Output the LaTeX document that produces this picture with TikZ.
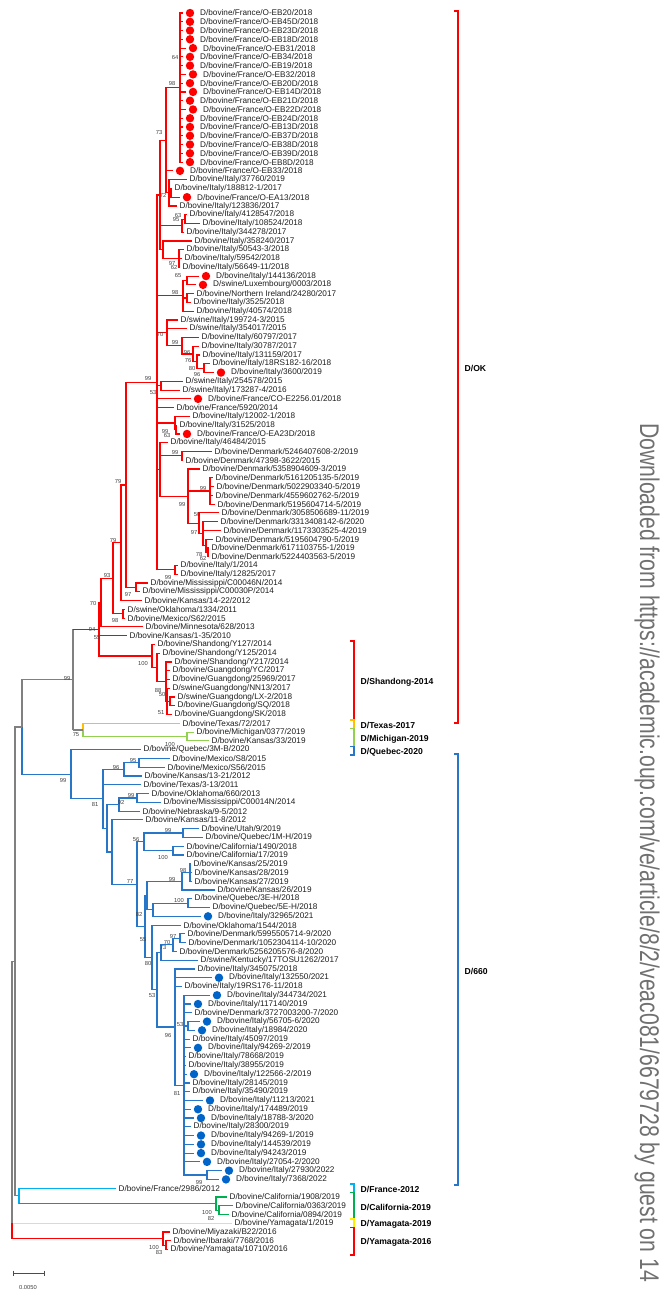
\documentclass[tikz,border=0pt]{standalone}
\usepackage{fontspec}
\setmainfont{Liberation Sans}
\usetikzlibrary{calc}
\definecolor{cR}{RGB}{255,0,0}
\definecolor{cB}{RGB}{40,118,200}
\definecolor{cBd}{RGB}{0,100,200}
\definecolor{cG}{RGB}{128,128,128}
\definecolor{cO}{RGB}{255,192,0}
\definecolor{cLG}{RGB}{146,208,80}
\definecolor{cC}{RGB}{0,176,240}
\definecolor{cGr}{RGB}{0,176,80}
\definecolor{cY}{RGB}{255,240,0}
\definecolor{dlgray}{RGB}{112,112,112}
\newcommand\lf[3]{\coordinate (L#1) at ({#2},{13+(#1-1)*8.77});
  \node[lab] (T#1) at ([xshift=2.5pt]L#1) {#3};}
\newcommand\lfd[4]{\coordinate (L#1) at ({#2},{13+(#1-1)*8.77});
  \node[dotm,fill=#4] (M#1) at ([xshift=7pt]L#1) {};
  \node[lab] (T#1) at ([xshift=17pt]L#1) {#3};}
\newcommand\nd[4]{\path let \p1=($(#3)!.5!(#4)$) in ({#2},\y1) coordinate (#1);}
\newcommand\br[3]{\foreach \chd in {#3}{\draw[edge,#1] (#2) |- (\chd);}}
\newcommand\brr[4]{\foreach \chd in {#3,...,#4}{\draw[edge,#1] (#2) |- (L\chd);}}
\newcounter{bsc}
\newcommand\bs[3]{\stepcounter{bsc}\node[bsl] (bs\arabic{bsc}) at ({#1},{#2}) {#3};}
\newcommand\clade[6]{\draw[brk,#1] ({#2-4},{#3}) -- ({#2},{#3}) -- ({#2},{#4}) -- ({#2-4},{#4});
  \node[clab] (#5) at ({#2+6.5},{(#3+#4)/2+1.5}) {#6};}
\begin{document}
\begin{tikzpicture}[x=1pt,y=-1pt,
  lab/.style={anchor=west,inner sep=0pt,font=\fontsize{8.2}{9}\selectfont,text=black!88},
  dotm/.style={circle,inner sep=0pt,minimum size=8.4pt,draw=none},
  edge/.style={line width=1.15pt},
  bsl/.style={inner sep=0pt,font=\fontsize{5.8}{6}\selectfont,text=black!75},
  brk/.style={line width=1.2pt},
  clab/.style={anchor=west,inner sep=0pt,font=\bfseries\fontsize{8.6}{9}\selectfont,text=black}]
\useasboundingbox (0,0) rectangle (670,1293);
% ---------- leaves
\lfd{1}{183}{D/bovine/France/O-EB20/2018}{cR}
\lfd{2}{183}{D/bovine/France/O-EB45D/2018}{cR}
\lfd{3}{183}{D/bovine/France/O-EB23D/2018}{cR}
\lfd{4}{183}{D/bovine/France/O-EB18D/2018}{cR}
\lfd{5}{186}{D/bovine/France/O-EB31/2018}{cR}
\lfd{6}{183}{D/bovine/France/O-EB34/2018}{cR}
\lfd{7}{183}{D/bovine/France/O-EB19/2018}{cR}
\lfd{8}{186}{D/bovine/France/O-EB32/2018}{cR}
\lfd{9}{183}{D/bovine/France/O-EB20D/2018}{cR}
\lfd{10}{186}{D/bovine/France/O-EB14D/2018}{cR}
\lfd{11}{183}{D/bovine/France/O-EB21D/2018}{cR}
\lfd{12}{186}{D/bovine/France/O-EB22D/2018}{cR}
\lfd{13}{183}{D/bovine/France/O-EB24D/2018}{cR}
\lfd{14}{183}{D/bovine/France/O-EB13D/2018}{cR}
\lfd{15}{183}{D/bovine/France/O-EB37D/2018}{cR}
\lfd{16}{183}{D/bovine/France/O-EB38D/2018}{cR}
\lfd{17}{183}{D/bovine/France/O-EB39D/2018}{cR}
\lfd{18}{183}{D/bovine/France/O-EB8D/2018}{cR}
\lfd{19}{173}{D/bovine/France/O-EB33/2018}{cR}
\lf{20}{187}{D/bovine/Italy/37760/2019}
\lf{21}{172}{D/bovine/Italy/188812-1/2017}
\lfd{22}{180}{D/bovine/France/O-EA13/2018}{cR}
\lf{23}{177}{D/bovine/Italy/123836/2017}
\lf{24}{187}{D/bovine/Italy/4128547/2018}
\lf{25}{200}{D/bovine/Italy/108524/2018}
\lf{26}{184}{D/bovine/Italy/344278/2017}
\lf{27}{192}{D/bovine/Italy/358240/2017}
\lf{28}{184}{D/bovine/Italy/50543-3/2018}
\lf{29}{182}{D/bovine/Italy/59542/2018}
\lf{30}{180}{D/bovine/Italy/56649-11/2018}
\lfd{31}{199}{D/bovine/Italy/144136/2018}{cR}
\lfd{32}{196}{D/swine/Luxembourg/0003/2018}{cR}
\lf{33}{194}{D/bovine/Northern Ireland/24280/2017}
\lf{34}{191}{D/bovine/Italy/3525/2018}
\lf{35}{194}{D/bovine/Italy/40574/2018}
\lf{36}{178}{D/swine/Italy/199724-3/2015}
\lf{37}{187}{D/swine/Italy/354017/2015}
\lf{38}{199}{D/bovine/Italy/60797/2017}
\lf{39}{199}{D/bovine/Italy/30787/2017}
\lf{40}{200}{D/bovine/Italy/131159/2017}
\lf{41}{210}{D/bovine/Italy/18RS182-16/2018}
\lfd{42}{214}{D/bovine/Italy/3600/2019}{cR}
\lf{43}{183}{D/swine/Italy/254578/2015}
\lf{44}{180}{D/swine/Italy/173287-4/2016}
\lfd{45}{191}{D/bovine/France/CO-E2256.01/2018}{cR}
\lf{46}{174}{D/bovine/France/5920/2014}
\lf{47}{190}{D/bovine/Italy/12002-1/2018}
\lf{48}{177}{D/bovine/Italy/31525/2018}
\lfd{49}{180}{D/bovine/France/O-EA23D/2018}{cR}
\lf{50}{168}{D/bovine/Italy/46484/2015}
\lf{51}{212}{D/bovine/Denmark/5246407608-2/2019}
\lf{52}{183}{D/bovine/Denmark/47398-3622/2015}
\lf{53}{200}{D/bovine/Denmark/5358904609-3/2019}
\lf{54}{213}{D/bovine/Denmark/5161205135-5/2019}
\lf{55}{214}{D/bovine/Denmark/5022903340-5/2019}
\lf{56}{213}{D/bovine/Denmark/4559602762-5/2019}
\lf{57}{215}{D/bovine/Denmark/5195604714-5/2019}
\lf{58}{219}{D/bovine/Denmark/3058506689-11/2019}
\lf{59}{218}{D/bovine/Denmark/3313408142-6/2020}
\lf{60}{221}{D/bovine/Denmark/1173303525-4/2019}
\lf{61}{213}{D/bovine/Denmark/5195604790-5/2019}
\lf{62}{209}{D/bovine/Denmark/6171103755-1/2019}
\lf{63}{209}{D/bovine/Denmark/5224403563-5/2019}
\lf{64}{178}{D/bovine/Italy/1/2014}
\lf{65}{178}{D/bovine/Italy/12825/2017}
\lf{66}{148}{D/bovine/Mississippi/C00046N/2014}
\lf{67}{140}{D/bovine/Mississippi/C00030P/2014}
\lf{68}{142}{D/bovine/Kansas/14-22/2012}
\lf{69}{125}{D/swine/Oklahoma/1334/2011}
\lf{70}{125}{D/bovine/Mexico/S62/2015}
\lf{71}{143}{D/bovine/Minnesota/628/2013}
\lf{72}{127}{D/bovine/Kansas/1-35/2010}
\lf{73}{155}{D/bovine/Shandong/Y127/2014}
\lf{74}{160}{D/bovine/Shandong/Y125/2014}
\lf{75}{172}{D/bovine/Shandong/Y217/2014}
\lf{76}{170}{D/bovine/Guangdong/YC/2017}
\lf{77}{170}{D/bovine/Guangdong/25969/2017}
\lf{78}{170}{D/swine/Guangdong/NN13/2017}
\lf{79}{175}{D/swine/Guangdong/LX-2/2018}
\lf{80}{175}{D/bovine/Guangdong/SQ/2018}
\lf{81}{172}{D/bovine/Guangdong/SK/2018}
\lf{82}{180}{D/bovine/Texas/72/2017}
\lf{83}{194}{D/bovine/Michigan/0377/2019}
\lf{84}{209}{D/bovine/Kansas/33/2019}
\lf{85}{141}{D/bovine/Quebec/3M-B/2020}
\lf{86}{170}{D/bovine/Mexico/S8/2015}
\lf{87}{165}{D/bovine/Mexico/S56/2015}
\lf{88}{142}{D/bovine/Kansas/13-21/2012}
\lf{89}{141}{D/bovine/Texas/3-13/2011}
\lf{90}{149}{D/bovine/Oklahoma/660/2013}
\lf{91}{161}{D/bovine/Mississippi/C00014N/2014}
\lf{92}{140}{D/bovine/Nebraska/9-5/2012}
\lf{93}{143}{D/bovine/Kansas/11-8/2012}
\lf{94}{199}{D/bovine/Utah/9/2019}
\lf{95}{203}{D/bovine/Quebec/1M-H/2019}
\lf{96}{184}{D/bovine/California/1490/2018}
\lf{97}{184}{D/bovine/California/17/2019}
\lf{98}{191}{D/bovine/Kansas/25/2019}
\lf{99}{192}{D/bovine/Kansas/28/2019}
\lf{100}{192}{D/bovine/Kansas/27/2019}
\lf{101}{215}{D/bovine/Kansas/26/2019}
\lf{102}{192}{D/bovine/Quebec/3E-H/2018}
\lf{103}{210}{D/bovine/Quebec/5E-H/2018}
\lfd{104}{201}{D/bovine/Italy/32965/2021}{cBd}
\lf{105}{181}{D/bovine/Oklahoma/1544/2018}
\lf{106}{185}{D/bovine/Denmark/5995505714-9/2020}
\lf{107}{186}{D/bovine/Denmark/1052304114-10/2020}
\lf{108}{177}{D/bovine/Denmark/5256205576-8/2020}
\lf{109}{198}{D/swine/Kentucky/17TOSU1262/2017}
\lf{110}{195}{D/bovine/Italy/345075/2018}
\lfd{111}{212}{D/bovine/Italy/132550/2021}{cBd}
\lf{112}{182}{D/bovine/Italy/19RS176-11/2018}
\lfd{113}{210}{D/bovine/Italy/344734/2021}{cBd}
\lfd{114}{191}{D/bovine/Italy/117140/2019}{cBd}
\lf{115}{192}{D/bovine/Denmark/3727003200-7/2020}
\lfd{116}{200}{D/bovine/Italy/56705-6/2020}{cBd}
\lfd{117}{195}{D/bovine/Italy/18984/2020}{cBd}
\lf{118}{190}{D/bovine/Italy/45097/2019}
\lfd{119}{191}{D/bovine/Italy/94269-2/2019}{cBd}
\lf{120}{186}{D/bovine/Italy/78668/2019}
\lf{121}{186}{D/bovine/Italy/38955/2019}
\lfd{122}{187}{D/bovine/Italy/122566-2/2019}{cBd}
\lf{123}{190}{D/bovine/Italy/28145/2019}
\lf{124}{190}{D/bovine/Italy/35490/2019}
\lfd{125}{203}{D/bovine/Italy/11213/2021}{cBd}
\lfd{126}{191}{D/bovine/Italy/174489/2019}{cBd}
\lfd{127}{194}{D/bovine/Italy/18788-3/2020}{cBd}
\lf{128}{191}{D/bovine/Italy/28300/2019}
\lfd{129}{194}{D/bovine/Italy/94269-1/2019}{cBd}
\lfd{130}{194}{D/bovine/Italy/144539/2019}{cBd}
\lfd{131}{194}{D/bovine/Italy/94243/2019}{cBd}
\lfd{132}{200}{D/bovine/Italy/27054-2/2020}{cBd}
\lfd{133}{222}{D/bovine/Italy/27930/2022}{cBd}
\lfd{134}{219}{D/bovine/Italy/7368/2022}{cBd}
\lf{135}{116}{D/bovine/France/2986/2012}
\lf{136}{227}{D/bovine/California/1908/2019}
\lf{137}{233}{D/bovine/California/0363/2019}
\lf{138}{229}{D/bovine/California/0894/2019}
\lf{139}{232}{D/bovine/Yamagata/1/2019}
\lf{140}{170}{D/bovine/Miyazaki/B22/2016}
\lf{141}{171}{D/bovine/Ibaraki/7768/2016}
\lf{142}{168}{D/bovine/Yamagata/10710/2016}
% ---------- internal nodes (D/OK)
\nd{A}{180}{L1}{L18}
\nd{D}{171}{L21}{L22}
\nd{C}{169}{L20}{L23}
\nd{B}{166}{A}{C}
\nd{H1}{185}{L24}{L25}
\nd{H}{182}{H1}{L26}
\nd{I2}{179}{L28}{L30}
\nd{I}{163}{L27}{I2}
\nd{M}{160}{B}{I}
\nd{J1}{187}{L31}{L32}
\nd{J2}{187}{L33}{L34}
\nd{J}{183}{J1}{L35}
\nd{K4}{204}{L41}{L42}
\nd{K3}{197}{L40}{K4}
\nd{K2}{193}{L39}{K3}
\nd{K1}{182}{L38}{K2}
\nd{Ln}{167}{L36}{K1}
\nd{N1}{161}{L43}{L44}
\nd{O2}{176}{L48}{L49}
\nd{O}{175}{L47}{O2}
\nd{P1}{182}{L51}{L52}
\nd{Q1}{210}{L54}{L57}
\nd{R4}{208}{L62}{L63}
\nd{R3}{206}{L61}{R4}
\nd{R2}{203}{L59}{R3}
\nd{R1}{199}{L58}{R2}
\nd{Q}{188}{L53}{R1}
\nd{F}{160}{L50}{Q}
\nd{S}{175}{L64}{L65}
\nd{E}{157}{M}{S}
\nd{U}{136}{L66}{L67}
\nd{T}{126}{E}{U}
\nd{V}{121}{T}{L68}
\nd{W}{123}{L69}{L70}
\nd{X}{113}{V}{W}
\nd{Y2}{101}{X}{L71}
\nd{Z4}{170}{L79}{L80}
\nd{Z3}{167}{L78}{L81}
\nd{Z2}{166}{L75}{Z3}
\nd{Z1}{157}{L74}{Z2}
\nd{Z}{152}{L73}{Z1}
\nd{Y1}{99}{Y2}{Z}
\nd{MI}{187}{L83}{L84}
\nd{TX}{83}{L82}{MI}
\nd{DOK}{73}{Y1}{TX}
% ---------- internal nodes (D/660)
\nd{MX1}{139}{L86}{L87}
\nd{MX}{124}{MX1}{L88}
\nd{OK1}{137}{L90}{L91}
\nd{OKn}{119}{OK1}{L92}
\nd{UT}{183}{L94}{L95}
\nd{CA}{173}{L96}{L97}
\nd{UC}{144}{UT}{CA}
\nd{KS1}{190}{L98}{L100}
\nd{KS}{182}{KS1}{L101}
\nd{QC1}{188}{L102}{L103}
\nd{QC}{153}{QC1}{L104}
\nd{N82}{147}{KS}{QC}
\nd{DK1}{180}{L106}{L107}
\nd{DK2}{173}{DK1}{L108}
\nd{DK3}{161}{DK2}{L109}
\nd{IT53}{188}{L116}{L117}
\nd{IT99}{207}{L133}{L134}
\nd{IT81}{184}{L113}{IT99}
\nd{IT96}{175}{L110}{IT81}
\nd{N53}{157}{DK3}{IT96}
\nd{N80}{152}{L105}{N53}
\nd{N55}{145}{N82}{N80}
\nd{N77}{137}{UC}{N55}
\nd{K11}{112}{L93}{N77}
\nd{N107}{107}{OKn}{K11}
\nd{CC}{103}{MX}{N107}
\nd{BB}{71}{L85}{CC}
\nd{AA}{22}{DOK}{BB}
% ---------- basal
\nd{CA2}{219}{L137}{L138}
\nd{CA1}{216}{L136}{CA2}
\nd{FR}{19}{L135}{CA1}
\nd{RA}{15}{AA}{FR}
\nd{YM2}{166}{L141}{L142}
\nd{YM1}{163}{L140}{YM2}
\nd{RT}{12}{RA}{YM1}
% ---------- edges
\brr{cR}{A}{1}{18}
\br{cR}{D}{L21,L22}
\br{cR}{C}{L20,D,L23}
\br{cR}{B}{A,L19,C}
\br{cR}{H1}{L24,L25}
\br{cR}{H}{H1,L26}
\br{cR}{I2}{L28,L29,L30}
\br{cR}{I}{L27,I2}
\br{cR}{M}{B,H,I}
\br{cR}{J1}{L31,L32}
\br{cR}{J2}{L33,L34}
\br{cR}{J}{J1,J2,L35}
\br{cR}{K4}{L41,L42}
\br{cR}{K3}{L40,K4}
\br{cR}{K2}{L39,K3}
\br{cR}{K1}{L38,K2}
\br{cR}{Ln}{L36,L37,K1}
\br{cR}{N1}{L43,L44}
\br{cR}{O2}{L48,L49}
\br{cR}{O}{L47,O2}
\br{cR}{P1}{L51,L52}
\brr{cR}{Q1}{54}{57}
\br{cR}{R4}{L62,L63}
\br{cR}{R3}{L61,R4}
\br{cR}{R2}{L59,L60,R3}
\br{cR}{R1}{L58,R2}
\br{cR}{Q}{L53,Q1,R1}
\br{cR}{F}{L50,P1,Q}
\br{cR}{S}{L64,L65}
\br{cR}{E}{M,J,Ln,N1,L45,L46,O,F,S}
\br{cR}{U}{L66,L67}
\br{cR}{T}{E,U}
\br{cR}{V}{T,L68}
\br{cR}{W}{L69,L70}
\br{cR}{X}{V,W}
\br{cR}{Y2}{X,L71}
\br{cR}{Z4}{L79,L80}
\br{cR}{Z3}{L78,Z4,L81}
\br{cR}{Z2}{L75,L76,L77,Z3}
\br{cR}{Z1}{L74,Z2}
\br{cR}{Z}{L73,Z1}
\br{cR}{Y1}{Y2,L72,Z}
\br{cLG}{MI}{L83,L84}
\br{cO}{TX}{L82}
\br{cLG}{TX}{MI}
\draw[edge,cG] (DOK |- Y1) -- (DOK |- TX);
\draw[edge,cR] (DOK |- Y1) -- (Y1);
\draw[edge,cG] (DOK |- TX) -- (TX);
\br{cB}{MX1}{L86,L87}
\br{cB}{MX}{MX1,L88}
\br{cB}{OK1}{L90,L91}
\br{cB}{OKn}{OK1,L92}
\br{cB}{UT}{L94,L95}
\br{cB}{CA}{L96,L97}
\br{cB}{UC}{UT,CA}
\br{cB}{KS1}{L98,L99,L100}
\br{cB}{KS}{KS1,L101}
\br{cB}{QC1}{L102,L103}
\br{cB}{QC}{QC1,L104}
\br{cB}{N82}{KS,QC}
\br{cB}{DK1}{L106,L107}
\br{cB}{DK2}{DK1,L108}
\br{cB}{DK3}{DK2,L109}
\br{cB}{IT53}{L116,L117}
\br{cB}{IT99}{L133,L134}
\br{cB}{IT81}{L113,L114,L115,IT53,L118,L119,L120,L121,L122,L123,L124,L125,L126,L127,L128,L129,L130,L131,L132,IT99}
\br{cB}{IT96}{L110,L111,L112,IT81}
\br{cB}{N53}{DK3,IT96}
\br{cB}{N80}{L105,N53}
\br{cB}{N55}{N82,N80}
\br{cB}{N77}{UC,N55}
\br{cB}{K11}{L93,N77}
\br{cB}{N107}{OKn,K11}
\br{cB}{CC}{MX,L89,N107}
\br{cB}{BB}{L85,CC}
\br{cG}{AA}{DOK}
\br{cB}{AA}{BB}
\br{cGr}{CA2}{L137,L138}
\br{cGr}{CA1}{L136,CA2}
\draw[edge,cC] (FR |- L135) -- (FR |- CA1);
\draw[edge,cC] (FR |- L135) -- (L135);
\draw[edge,cGr] (FR |- CA1) -- (CA1);
\br{cG}{RA}{AA,FR}
\br{cR}{YM2}{L141,L142}
\br{cR}{YM1}{L140,YM2}
\draw[edge,cG] (RT |- RA) -- (RT |- L139);
\draw[edge,cG] (RT |- RA) -- (RA);
\draw[edge,cY] (RT |- L139) -- (L139);
\draw[edge,cR] (RT |- L139) |- (YM1);
% ---------- bootstrap values
\bs{175}{58}{64}\bs{172}{84}{98}\bs{159}{133}{73}\bs{163}{195}{72}
\bs{178}{215}{63}\bs{176}{219.5}{95}\bs{172}{263}{97}\bs{174}{267}{62}
\bs{178}{275}{65}\bs{175}{292}{98}\bs{160}{334}{70}\bs{175}{342}{99}
\bs{187}{352}{96}\bs{188}{360}{76}\bs{192}{368}{80}\bs{197}{374}{96}
\bs{148}{378}{99}\bs{153}{392}{53}\bs{165}{431}{99}\bs{167}{435}{63}
\bs{175}{452}{99}\bs{203}{488}{99}\bs{182}{504}{99}\bs{197}{514}{50}
\bs{194}{532}{97}\bs{199}{554}{78}\bs{203}{558}{62}\bs{168}{577}{99}
\bs{118}{481}{79}\bs{113}{540}{79}\bs{128}{594}{97}\bs{107}{575}{93}
\bs{93}{603}{70}\bs{115}{620}{98}\bs{92}{629}{94}\bs{97}{638}{55}
\bs{143}{663}{100}\bs{67}{678}{99}\bs{158}{690}{88}\bs{162}{694}{50}
\bs{161}{713}{51}\bs{76}{735}{75}\bs{170}{744}{100}\bs{63}{780}{99}
\bs{133}{760}{95}\bs{116}{767}{96}\bs{95}{804}{81}\bs{131}{795}{99}
\bs{121}{802}{92}\bs{168}{830}{99}\bs{136}{839}{56}\bs{163}{857}{100}
\bs{183}{870}{98}\bs{172}{879}{99}\bs{130}{881}{77}\bs{179}{900}{100}
\bs{139}{914}{82}\bs{143}{940}{55}\bs{173}{936}{97}\bs{167}{942}{70}
\bs{163}{947}{73}\bs{148}{963}{80}\bs{152}{995}{53}\bs{180}{1024}{53}
\bs{168}{1035}{96}\bs{177}{1093}{81}\bs{199}{1182}{99}\bs{207}{1212}{100}
\bs{211}{1218}{82}\bs{154}{1247}{100}\bs{159}{1252}{83}
% ---------- clade brackets
\clade{cR}{458}{11}{723}{cOK}{D/OK}
\clade{cB}{458}{754}{1185}{c660}{D/660}
\clade{cR}{354}{641}{720}{cSD}{D/Shandong-2014}
\clade{cO}{354}{720}{728.5}{cTX}{D/Texas-2017}
\clade{cLG}{354}{728.5}{746.5}{cMI}{D/Michigan-2019}
\clade{cB}{354}{746.5}{755}{cQC}{D/Quebec-2020}
\clade{cC}{354}{1184}{1192.5}{cFR}{D/France-2012}
\clade{cGr}{354}{1192.5}{1219}{cCA}{D/California-2019}
\clade{cY}{354}{1219}{1227.5}{cYG}{D/Yamagata-2019}
\clade{cR}{354}{1227.5}{1255}{cYM}{D/Yamagata-2016}
% ---------- scale bar
\coordinate (sb1) at (13,1273);
\coordinate (sb2) at (44,1273);
\draw[line width=0.8pt,black!70] (sb1) -- (sb2);
\draw[line width=0.8pt,black!70] ([yshift=2.5pt]sb1) -- ([yshift=-2.5pt]sb1);
\draw[line width=0.8pt,black!70] ([yshift=2.5pt]sb2) -- ([yshift=-2.5pt]sb2);
\node[bsl] (sbl) at (28,1287) {0.0050};
% ---------- side note
\node[rotate=-90,anchor=base west,inner sep=0pt,text=dlgray,font=\fontsize{27}{30}\selectfont] (dl) at (640,423)
  {\scalebox{0.785}[1]{Downloaded from https://academic.oup.com/ve/article/8/2/veac081/6679728 by guest on 14}};
\end{tikzpicture}
\end{document}
